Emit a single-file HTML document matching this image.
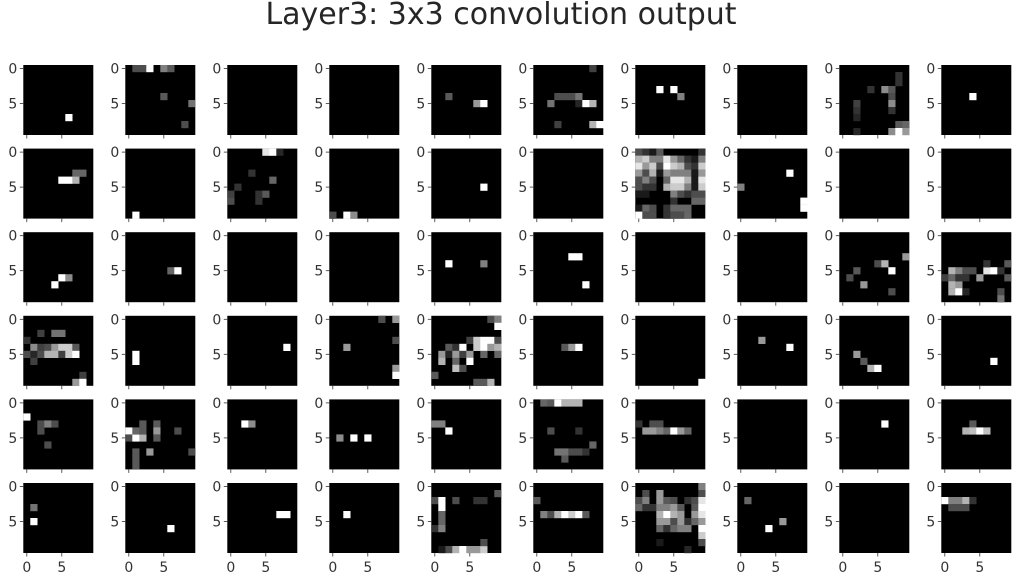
<!DOCTYPE html>
<html><head><meta charset="utf-8"><style>
html,body{margin:0;padding:0;background:#fff;}
svg{display:block;font-family:"DejaVu Sans","Liberation Sans",sans-serif;}
</style></head><body>
<svg id="fig" width="1021" height="580" viewBox="0 0 1021 580">
<text x="501" y="24" text-anchor="middle" font-size="30" fill="#262626">Layer3: 3x3 convolution output</text>
<g id="panels"></g>
</svg>
<script>
// grid layout labels
const tickLabels = ["0", "5"];
const tickValues = [0, 5];
const gridSize = 10;
// sparse cells per feature map: [row, col, intensity]
const sparseMaps = [
[[7,6,1]],
[[0,1,.3],[0,2,.3],[0,3,1],[0,5,.5],[0,6,.35],[4,5,.35],[5,9,.45],[8,8,.3]],
[],[],
[[4,2,.35],[5,6,.6],[5,7,1]],
[[0,8,.25],[4,3,.3],[4,4,.3],[4,5,.3],[4,6,.45],[5,2,.45],[5,6,.15],[5,7,1],[5,8,.7],[8,3,.25],[8,8,.7],[8,9,1]],
[[3,3,1],[3,5,1],[4,6,.5]],
[],
[[1,8,.2],[2,8,.2],[3,4,.2],[3,6,.55],[3,7,.35],[4,7,.3],[5,7,.55],[5,2,.25],[6,2,.2],[7,2,.15],[6,7,.2],[9,2,.15],[8,8,.35],[8,9,.4],[9,7,.55],[9,8,1],[9,9,.6]],
[[4,4,1]],
[[3,7,.4],[3,8,.4],[4,5,1],[4,6,1],[4,7,.7]],
[[9,1,1]],
[[0,5,.9],[0,6,1],[0,7,.15],[3,3,.2],[4,6,.4],[5,1,.2],[6,0,.25],[7,0,.3],[6,4,.2],[6,5,.35],[7,4,.2]],
[[9,0,.3],[9,2,1],[9,3,.55]],
[[5,7,1]],
[],
null,
[[3,7,1],[5,0,.5],[7,9,1],[8,9,1]],
[],[],
[[7,4,1],[6,5,1],[6,6,.55]],
[[5,6,.4],[5,7,1]],
[],[],
[[4,2,1],[4,7,.5]],
[[3,5,1],[3,6,1],[7,7,1]],
[],[],
[[3,9,.6],[4,5,.3],[4,6,.7],[5,7,1],[5,2,.35],[6,1,.3],[7,3,.6],[8,7,.3]],
[[6,0,.25],[5,1,.7],[5,2,.5],[5,3,.3],[5,4,.3],[5,6,.9],[5,7,1],[5,8,.2],[4,9,.35],[4,6,.2],[6,5,.6],[6,1,.4],[6,3,.2],[7,1,.7],[7,2,.6],[8,1,.7],[8,2,1],[8,3,.15],[8,8,.3],[9,8,.45],[6,2,.2],[6,9,.35]],
[[2,2,.25],[2,4,.45],[2,5,.45],[3,0,.2],[4,1,.55],[4,2,.25],[4,3,.3],[4,4,.6],[4,5,.8],[4,6,.8],[4,7,.35],[5,0,.3],[5,1,.15],[5,2,.3],[5,3,.7],[5,4,.7],[5,5,.25],[5,6,.8],[5,7,1],[6,1,.25],[8,8,.25],[9,7,.6],[9,8,1]],
[[5,1,1],[6,1,1]],
[[4,8,1]],
[[0,7,.3],[0,9,.6],[3,9,.3],[4,2,.6],[7,9,.6],[8,9,1]],
[[0,8,.3],[0,9,.5],[1,9,1],[3,5,.25],[3,6,.8],[3,7,1],[3,8,1],[3,9,.3],[4,2,.35],[4,3,.2],[4,4,1],[4,6,.8],[4,7,1],[4,8,.6],[4,9,.7],[5,1,.6],[5,2,.15],[5,3,.6],[5,4,.25],[5,5,.6],[5,7,.4],[5,9,.4],[6,1,.7],[6,3,.4],[6,5,1],[7,3,.75],[7,4,.3],[8,0,.35],[9,6,.35],[9,7,.35],[9,8,.7]],
[[4,4,.35],[4,5,.6],[4,6,1]],
[[9,9,1]],
[[3,3,.6],[4,7,1]],
[[5,2,.6],[6,3,.35],[7,4,.7],[7,5,1]],
[[6,7,1]],
[[2,0,1],[3,2,.3],[3,3,.5],[3,4,.3],[4,2,.3],[6,3,.3]],
[[4,0,1],[5,0,.3],[5,1,1],[5,2,.7],[4,1,.4],[3,2,.35],[4,2,.35],[3,4,.35],[4,4,.6],[5,4,.35],[4,7,.3],[7,3,.6],[7,1,.35],[8,1,.35],[9,1,.35],[7,9,.3]],
[[3,2,1],[3,3,.55]],
[[5,1,.55],[5,3,1],[5,5,1]],
[[3,0,.5],[3,1,.5],[4,2,1]],
[[0,1,.4],[0,2,.35],[0,3,1],[0,4,.7],[0,5,.7],[0,6,.7],[4,2,.3],[4,6,.2],[6,8,.4],[7,3,.45],[7,4,.45],[7,5,.3],[7,6,.3],[7,7,.2],[8,4,.35]],
[[3,0,.2],[3,2,.3],[3,3,.3],[4,1,.6],[4,2,.6],[4,3,.5],[4,4,.4],[4,5,1],[4,6,.6],[4,7,.4]],
[],
[[3,6,1]],
[[3,4,.35],[4,3,.7],[4,4,.75],[4,5,1],[4,6,.75]],
[[3,1,.45],[5,1,1]],
[[6,6,1]],
[[4,7,1],[4,8,1]],
[[4,2,1]],
[[2,0,.3],[2,1,1],[3,1,1],[4,1,.4],[5,1,.4],[6,0,.2],[6,1,.5],[2,3,.3],[2,6,.2],[2,7,.2],[1,9,.35],[9,2,.3],[9,3,.7],[9,4,1],[9,5,.6],[9,6,.6],[9,7,.8],[8,7,.3],[9,1,.1]],
[[2,0,.35],[4,1,.5],[4,2,.3],[4,3,.7],[4,4,1],[4,5,.8],[4,6,1],[4,7,.35]],
null,
[[2,1,.4],[6,4,1],[5,6,.6]],
[],
[[2,0,1],[2,1,.5],[2,2,.5],[2,3,.7],[2,4,.2],[3,1,.3],[3,2,.3],[3,3,.3]]
];
// dense feature maps (row-major intensities)
const denseMap16 = [
[.3,.2,.1,.35,0,0,0,0,0,.2],
[.7,.8,.5,.5,.9,.6,.4,.2,.1,.5],
[.9,.6,.8,.3,1,.8,.7,.3,.2,.8],
[.6,.3,.7,.1,.6,.5,.5,.5,.1,.6],
[.3,.5,.3,0,.4,.9,.9,.7,.1,.9],
[.3,.2,.2,0,.7,.8,.8,.5,.1,.8],
[.1,.1,0,0,0,.5,.3,.2,.3,.3],
[0,0,0,0,0,.2,0,0,.4,.4],
[.1,.4,.3,0,.2,.4,.4,.4,0,0],
[1,.3,.3,0,.2,.3,.3,.4,0,0]];
const denseMap56 = [
[0,0,0,0,0,0,0,0,0,.5],
[0,.3,0,.6,0,0,0,0,0,.3],
[.3,.5,0,.6,.35,.3,0,.2,.3,.9],
[.4,.2,.2,.5,.5,.6,.35,0,.35,1],
[0,0,0,.7,1,.7,.6,0,.6,.9],
[0,0,0,.6,.6,.3,.6,.2,.4,.6],
[0,0,0,.4,.2,.4,.5,.5,0,1],
[0,0,0,0,0,0,0,0,0,.8],
[0,0,0,.1,0,0,0,0,0,.3],
[0,0,0,0,0,0,0,.15,0,0]];

const NS = "http://www.w3.org/2000/svg";
const root = document.getElementById("panels");
const cols = 10, rows = 6, pw = 70, cell = pw / gridSize;
function panelX(c){ return 23.3 + 102 * c; }
function panelY(r){ return 65 + 83.6 * r; }
function cellX(px, c){ return px + c * cell; }
function cellY(py, r){ return py + r * cell; }
function gray(v){ const g = Math.round(Math.max(0, Math.min(1, v)) * 255); return "rgb(" + g + "," + g + "," + g + ")"; }
function mk(tag, attrs, parent){ const e = document.createElementNS(NS, tag); for (const k in attrs) e.setAttribute(k, attrs[k]); parent.appendChild(e); return e; }

for (let i = 0; i < rows * cols; i++) {
  const pr = Math.floor(i / cols), pc = i % cols;
  const px = panelX(pc), py = panelY(pr);
  const g = mk("g", {}, root);
  
  
  const bg = mk("rect", {x: px, y: py, width: pw, height: pw, fill: "#000"}, g);
  
  
  let cells = [];
  if (i === 16) denseMap16.forEach((row, r) => row.forEach((v, c) => { if (v > 0) cells.push([r, c, v]); }));
  else if (i === 56) denseMap56.forEach((row, r) => row.forEach((v, c) => { if (v > 0) cells.push([r, c, v]); }));
  else cells = sparseMaps[i] || [];
  cells.forEach(([r, c, v]) => {
    const rc = mk("rect", {x: cellX(px, c), y: cellY(py, r), width: cell + 0.2, height: cell + 0.2, fill: gray(v)}, g);
    
    
  });
  tickValues.forEach((tv, k) => {
    const ty = py + (tv + 0.5) * cell;
    mk("line", {x1: px - 3.5, x2: px, y1: ty, y2: ty, stroke: "#333", "stroke-width": 0.8}, g);
    const t = mk("text", {x: px - 6, y: ty + 5, "text-anchor": "end", "font-size": 14, fill: "#333"}, g);
    t.textContent = tickLabels[k];
    
    
  });
  tickValues.forEach((tv, k) => {
    const tx = px + (tv + 0.5) * cell;
    mk("line", {x1: tx, x2: tx, y1: py + pw, y2: py + pw + 3.5, stroke: "#333", "stroke-width": 0.8}, g);
    if (pr === rows - 1) {
      const t = mk("text", {x: tx, y: py + pw + 19, "text-anchor": "middle", "font-size": 14, fill: "#333"}, g);
      t.textContent = tickLabels[k];
      
      
    }
  });
}
</script>
</body></html>
